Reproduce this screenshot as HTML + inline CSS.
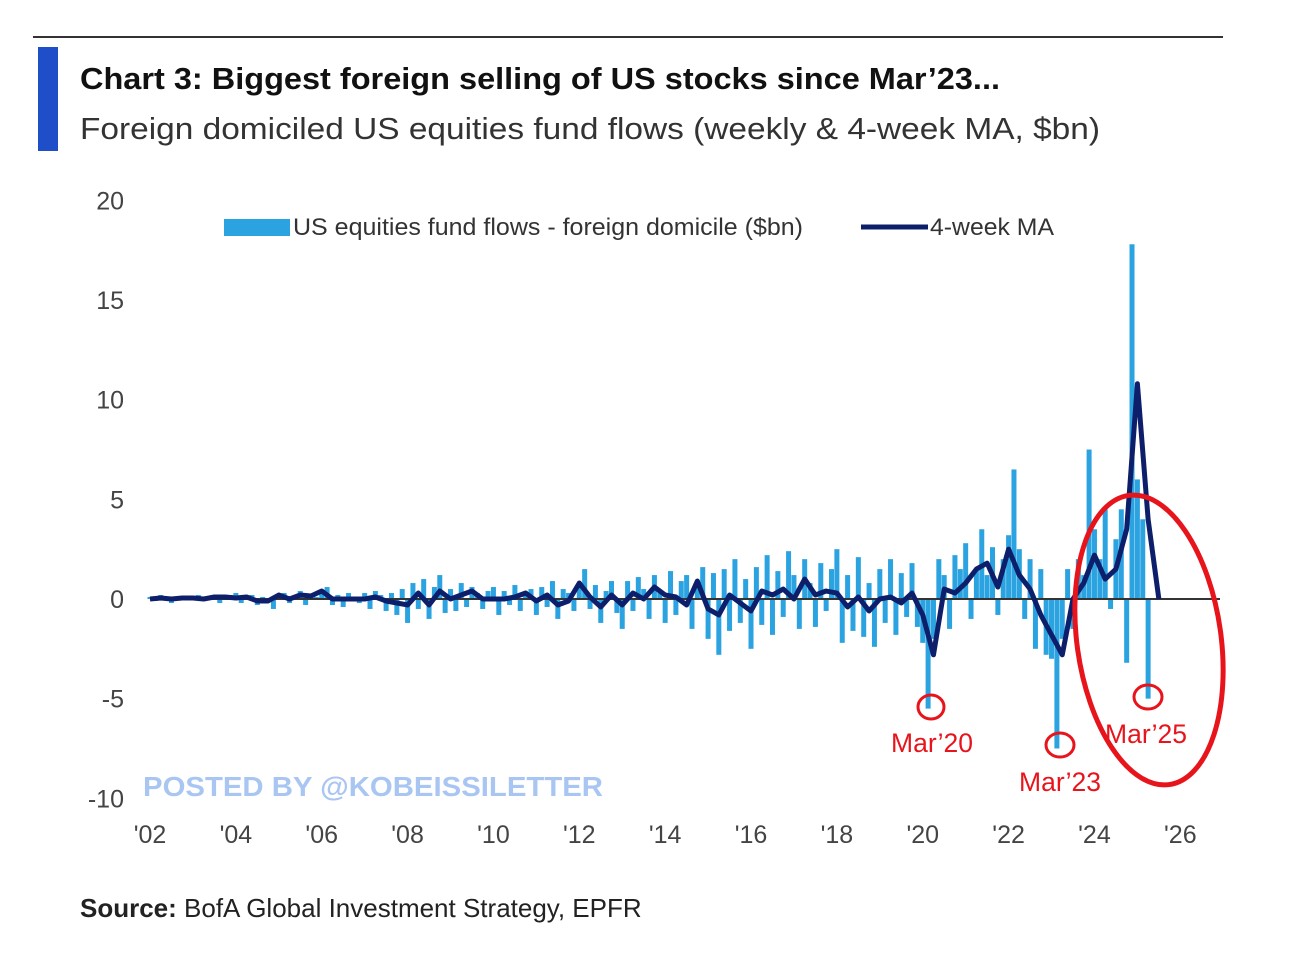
<!DOCTYPE html>
<html><head><meta charset="utf-8"><style>
html,body{margin:0;padding:0;background:#fff;}
svg{display:block;font-family:"Liberation Sans",sans-serif;}
</style></head><body>
<svg id="chart" width="1292" height="957" viewBox="0 0 1292 957">
<line x1="33" y1="37" x2="1223" y2="37" stroke="#333" stroke-width="2"/>
<rect x="38" y="47" width="20" height="104" fill="#1f4fc8"/>
<text x="80" y="89" font-size="31" font-weight="bold" fill="#111" textLength="920" lengthAdjust="spacingAndGlyphs">Chart 3: Biggest foreign selling of US stocks since Mar’23...</text>
<text x="80" y="139" font-size="31" fill="#333" textLength="1020" lengthAdjust="spacingAndGlyphs">Foreign domiciled US equities fund flows (weekly &amp; 4-week MA, $bn)</text>
<g id="yticks"></g>
<g id="xticks"></g>
<g id="bars"></g>
<line id="zero" x1="150" x2="1220" stroke="#333" stroke-width="2"/>
<polyline id="ma" fill="none" stroke="#0d1f6b" stroke-width="5" stroke-linejoin="round"/>
<g>
<rect x="224" y="219" width="66" height="17" fill="#2aa3e0"/>
<text x="293" y="235" font-size="24" fill="#333" textLength="510" lengthAdjust="spacingAndGlyphs">US equities fund flows - foreign domicile ($bn)</text>
<line x1="861" y1="227" x2="928" y2="227" stroke="#0d1f6b" stroke-width="5"/>
<text x="930" y="235" font-size="24" fill="#333" textLength="124" lengthAdjust="spacingAndGlyphs">4-week MA</text>
</g>
<text x="143" y="796" font-size="28" font-weight="bold" fill="#a9c6f2" textLength="460" lengthAdjust="spacingAndGlyphs">POSTED BY @KOBEISSILETTER</text>
<g fill="none" stroke="#e8141c" stroke-width="3">
<ellipse cx="931" cy="707" rx="13" ry="12"/>
<ellipse cx="1060" cy="745" rx="14" ry="12"/>
<ellipse cx="1148" cy="697" rx="14" ry="12"/>
<ellipse cx="1149" cy="640" rx="72" ry="146" stroke-width="5" transform="rotate(-8 1149 640)"/>
</g>
<g font-size="27" fill="#e8141c">
<text x="891" y="752" textLength="82" lengthAdjust="spacingAndGlyphs">Mar’20</text>
<text x="1019" y="791" textLength="82" lengthAdjust="spacingAndGlyphs">Mar’23</text>
<text x="1105" y="743" textLength="82" lengthAdjust="spacingAndGlyphs">Mar’25</text>
</g>
<text x="80" y="917" font-size="26" fill="#222"><tspan font-weight="bold">Source:</tspan> BofA Global Investment Strategy, EPFR</text>
</svg>
<script>
const yTicks=[20,15,10,5,0,-5,-10];
const xTickLabels=["'02","'04","'06","'08","'10","'12","'14","'16","'18","'20","'22","'24","'26"];
const xTickYears=[2002,2004,2006,2008,2010,2012,2014,2016,2018,2020,2022,2024,2026];
const weeklyStart=2002, weeklyPerYear=8;
const weeklyFlows=[
0.1,-0.1,0.2,0,-0.2,0.1,0,0.1,
0,0.2,-0.1,0.1,0,-0.2,0.1,0.2,
0.3,-0.2,0.1,0.2,-0.3,0.1,0,-0.5,
0.2,0.3,-0.2,0.1,0.4,-0.3,0.2,0.1,
0.4,0.6,-0.3,0.2,-0.4,0.3,0.1,-0.2,
0.3,-0.5,0.4,0.2,-0.6,0.3,-0.8,0.5,
-1.2,0.8,-0.5,1.0,-1.0,0.6,1.2,-0.7,
0.5,-0.6,0.8,-0.4,0.6,0.3,-0.5,0.4,
0.6,-0.8,0.4,-0.3,0.7,-0.6,0.3,0.5,
-0.8,0.6,-0.4,0.9,-1.0,0.5,0.3,-0.6,
0.8,1.5,-0.5,0.7,-1.2,0.4,0.9,-0.7,
-1.5,0.9,-0.6,1.1,0.5,-1.0,1.2,0.4,
-1.2,1.4,-0.8,0.9,1.2,-1.5,0.7,1.6,
-2.0,1.3,-2.8,1.5,-1.6,2.0,-1.2,1.0,
-2.5,1.6,-1.3,2.2,-1.8,1.4,-0.9,2.4,
1.2,-1.5,2.0,0.8,-1.4,1.8,-0.6,1.5,
2.5,-2.2,1.2,-1.6,2.1,-1.9,0.8,-2.4,
1.5,-1.2,2.0,-1.8,1.3,-0.9,1.8,-1.4,
-2.2,-5.5,-2.0,2.0,1.2,-1.5,2.2,1.5,
2.8,-1.0,1.5,3.5,1.2,2.6,-0.8,2.0,
3.2,6.5,2.5,-1.0,2.0,-2.5,1.5,-2.8,
-3.0,-7.5,-2.0,1.5,-1.5,2.0,1.2,7.5,
3.5,2.0,4.5,-0.5,3.0,4.5,-3.2,17.8,
6.0,4.0,-5.0];
const maStart=2002, maPerYear=4;
const maValues=[
0,0.05,0,0.05, 0.05,0,0.1,0.1, 0.05,0.1,-0.1,-0.1, 0.2,0,0.2,0.15,
0.4,0,0,0, 0,0.1,-0.1,-0.2, -0.3,0.3,-0.3,0.4, 0,0.2,0.4,0,
0,0,0.1,0.3, -0.1,0.2,-0.3,-0.1, 0.8,0.1,-0.4,0.2, -0.3,0.3,0,0.6,
0.2,0.1,-0.3,0.9, -0.5,-0.8,0.2,-0.2, -0.6,0.4,0.2,0.5, 0,1.0,0.2,0.4,
0.3,-0.4,0.1,-0.6, 0,0.1,-0.2,0.3, -0.8,-2.8,0.5,0.3, 0.8,1.5,1.8,0.6,
2.5,1.2,0.5,-0.8, -1.8,-2.8,0,0.8, 2.2,1.0,1.5,3.5, 10.8,4.0,0];
const X=yr=>150+(yr-2002)*42.93;
const Y=v=>599-v*19.93;
const NS="http://www.w3.org/2000/svg";
const yg=document.getElementById('yticks');
yTicks.forEach(v=>{const t=document.createElementNS(NS,'text');


t.setAttribute('x',124);t.setAttribute('y',Y(v)+9);t.setAttribute('text-anchor','end');
t.setAttribute('font-size','25');t.setAttribute('fill','#444');t.textContent=v;yg.appendChild(t);});
const xg=document.getElementById('xticks');
xTickLabels.forEach((l,i)=>{const t=document.createElementNS(NS,'text');


t.setAttribute('x',X(xTickYears[i]));t.setAttribute('y',843);t.setAttribute('text-anchor','middle');
t.setAttribute('font-size','25');t.setAttribute('fill','#444');t.textContent=l;xg.appendChild(t);});
const bg=document.getElementById('bars');
weeklyFlows.forEach((v,i)=>{const yr=weeklyStart+i/weeklyPerYear;const r=document.createElementNS(NS,'rect');


const y0=Y(0),y1=Y(v);r.setAttribute('x',X(yr)-2.5);r.setAttribute('width',5);
r.setAttribute('y',Math.min(y0,y1));r.setAttribute('height',Math.max(1,Math.abs(y1-y0)));
r.setAttribute('fill','#2aa3e0');bg.appendChild(r);});
const z=document.getElementById('zero');z.setAttribute('y1',Y(0));z.setAttribute('y2',Y(0));
document.getElementById('ma').setAttribute('points',maValues.map((v,i)=>X(maStart+i/maPerYear)+','+Y(v)).join(' '));
</script>
</body></html>
